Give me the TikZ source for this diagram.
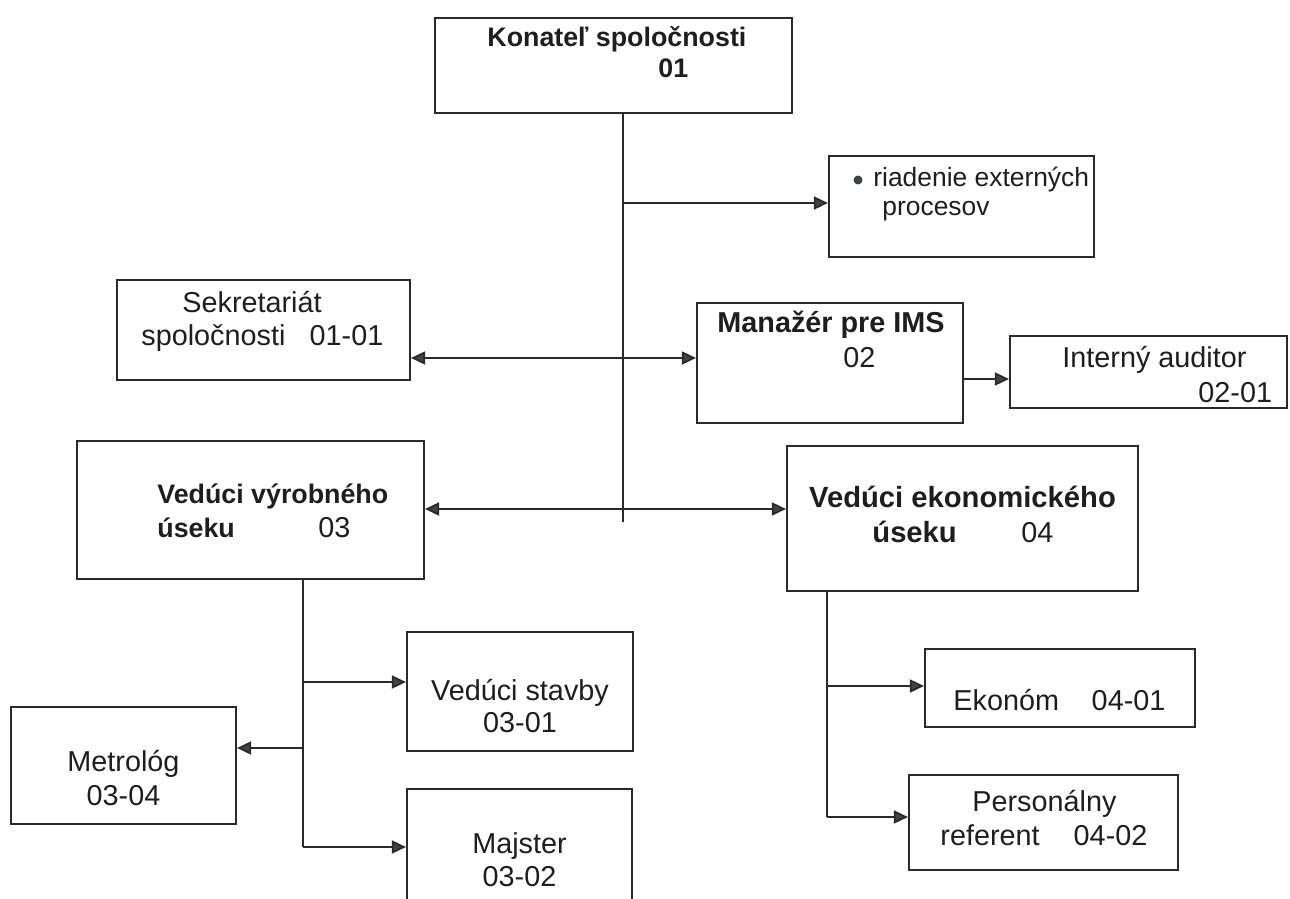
\documentclass[tikz,border=0pt]{standalone}
\usepackage{fontspec}
\setmainfont{Liberation Sans}
\usetikzlibrary{arrows.meta,fit}
\definecolor{linec}{HTML}{2A2A2A}
\definecolor{tipc}{HTML}{3C4542}
\definecolor{txtc}{HTML}{1E1E1E}
\begin{document}
\begin{tikzpicture}[x=0.5pt,y=-0.5pt,
  box/.style={draw=linec, line width=1.1pt, inner sep=0pt},
  lnk/.style={draw=linec, line width=0.9pt},
  arr/.style={lnk, -{Triangle[length=7pt,width=6.5pt,fill=tipc]}},
  darr/.style={lnk, {Triangle[length=7pt,width=6.5pt,fill=tipc]}-{Triangle[length=7pt,width=6.5pt,fill=tipc]}},
  txt/.style={inner sep=0pt, anchor=base west, text=txtc, font=\fontsize{14.4}{16}\selectfont},
  txtc/.style={txt, anchor=base},
  txtb/.style={txt, font=\fontsize{13.4}{16}\selectfont\bfseries},
  txtbc/.style={txtb, anchor=base},
  bigb/.style={font=\fontsize{14.6}{16}\selectfont\bfseries},
]
\useasboundingbox (0,0) rectangle (1290,899);
\clip (0,0) rectangle (1290,899);

% boxes
\node[box, fit={(435,18) (792,113)}] (kon) {};
\node[box, fit={(829,156) (1094,257)}] (riad) {};
\node[box, fit={(117,280) (410,380)}] (sekr) {};
\node[box, fit={(697,303) (963,423)}] (man) {};
\node[box, fit={(1010,336) (1287,408)}] (int) {};
\node[box, fit={(77,441) (424,579)}] (vyr) {};
\node[box, fit={(787,446) (1138,591)}] (eko) {};
\node[box, fit={(407,632) (633,751)}] (stav) {};
\node[box, fit={(11,707) (236,824)}] (met) {};
\node[box, fit={(407,789) (632,930)}] (maj) {};
\node[box, fit={(925,649) (1195,727)}] (ekon) {};
\node[box, fit={(909,775) (1178,870)}] (pers) {};

% texts
\node[txtb] (kon1) at (487,47) {Konateľ spoločnosti};
\node[txtb] (kon2) at (658,78) {01};

\fill[tipc] (858,180) circle (4.5);
\node[txt, font=\fontsize{13.2}{16}\selectfont] (riad1) at (873,186) {riadenie externých};
\node[txt, font=\fontsize{13.2}{16}\selectfont] (riad2) at (882,215) {procesov};

\node[txt] (sekr1) at (182,312) {Sekretariát};
\node[txt, text width=121pt] (sekr2) at (141,345) {spoločnosti\hfill 01-01};

\node[txtb, font=\fontsize{14.4}{16}\selectfont\bfseries] (man1) at (717,332) {Manažér pre IMS};
\node[txt] (man2) at (843,367) {02};

\node[txt] (int1) at (1062,367) {Interný auditor};
\node[txt] (int2) at (1198,402) {02-01};

\node[txtb] (vyr1) at (157,503) {Vedúci výrobného};
\node[txt, text width=96.5pt] (vyr2) at (157,537) {\fontsize{13.4}{16}\selectfont\bfseries úseku\hfill\mdseries\fontsize{14.4}{16}\selectfont 03};

\node[txtbc, bigb] (eko1) at (962.5,507) {Vedúci ekonomického};
\node[txt, text width=90.5pt] (eko2) at (872,542) {\fontsize{14.6}{16}\selectfont\bfseries úseku\hfill\mdseries\fontsize{14.4}{16}\selectfont 04};

\node[txtc] (stav1) at (520,700) {Vedúci stavby};
\node[txtc] (stav2) at (520,732) {03-01};

\node[txtc] (met1) at (123.5,771) {Metrológ};
\node[txtc] (met2) at (123.5,805) {03-04};

\node[txtc] (maj1) at (519.5,853) {Majster};
\node[txtc] (maj2) at (519.5,886) {03-02};

\node[txt, text width=106pt] (ekon1) at (953,710) {Ekonóm\hfill 04-01};

\node[txt] (pers1) at (972,811) {Personálny};
\node[txt, text width=103.5pt] (pers2) at (940,845) {referent\hfill 04-02};

% trunk of the company head
\coordinate (trunk) at (623,522);
\coordinate (j1) at (623,203);
\coordinate (j2) at (623,358);
\coordinate (j4) at (623,509);
\draw[lnk] (kon.south -| trunk) -- (trunk);
\draw[arr] (j1) -- (j1 -| riad.west);
\draw[darr] (j2 -| sekr.east) -- (j2 -| man.west);
\coordinate (j3) at (963,379);
\draw[arr] (j3 -| man.east) -- (j3 -| int.west);
\draw[darr] (j4 -| vyr.east) -- (j4 -| eko.west);

% production branch
\coordinate (vt) at (303,847);
\coordinate (v1) at (303,682);
\coordinate (v2) at (303,748);
\draw[lnk] (vyr.south -| vt) -- (vt);
\draw[arr] (v1) -- (v1 -| stav.west);
\draw[arr] (v2) -- (v2 -| met.east);
\draw[arr] (vt) -- (vt -| maj.west);

% economic branch
\coordinate (et) at (827,817);
\coordinate (e1) at (827,686);
\draw[lnk] (eko.south -| et) -- (et);
\draw[arr] (e1) -- (e1 -| ekon.west);
\draw[arr] (et) -- (et -| pers.west);
\end{tikzpicture}
\end{document}
